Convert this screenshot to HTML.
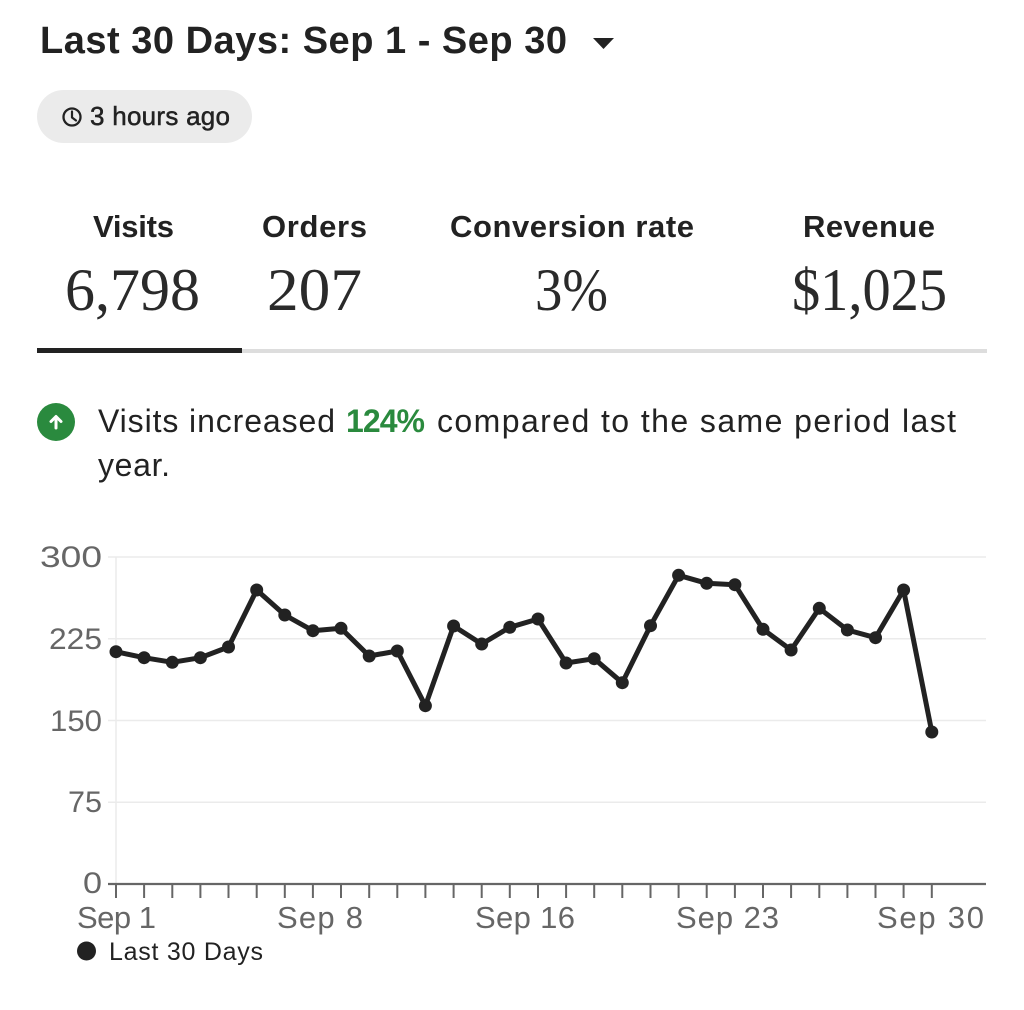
<!DOCTYPE html>
<html>
<head>
<meta charset="utf-8">
<style>
  html, body { margin: 0; padding: 0; background: #ffffff; }
  body { width: 1024px; height: 1010px; overflow: hidden; }
  svg { display: block; }
  text { font-family: "Liberation Sans", sans-serif; }
  text.serif { font-family: "Liberation Serif", serif; }
</style>
</head>
<body>
<svg width="1024" height="1010" viewBox="0 0 1024 1010" xmlns="http://www.w3.org/2000/svg">
  <rect x="0" y="0" width="1024" height="1010" fill="#ffffff"/>

  <!-- Title -->
  <text x="40" y="53" font-size="38" font-weight="bold" fill="#222222" textLength="527" lengthAdjust="spacing">Last 30 Days: Sep 1 - Sep 30</text>
  <polygon points="593,38 614,38 603.5,49" fill="#222222"/>

  <!-- Pill -->
  <rect x="37" y="90" width="215" height="53" rx="26.5" ry="26.5" fill="#ebebeb"/>
  <circle cx="72" cy="117" r="8.5" fill="none" stroke="#222222" stroke-width="2.3"/>
  <polyline points="72,111.5 72,117.5 76,120.5" fill="none" stroke="#222222" stroke-width="2.2" stroke-linecap="round" stroke-linejoin="round"/>
  <text x="90" y="125" font-size="26" fill="#222222" stroke="#222222" stroke-width="0.5" textLength="140" lengthAdjust="spacing">3 hours ago</text>

  <!-- Metric labels -->
  <text x="93" y="237" font-size="31" font-weight="bold" fill="#222222" textLength="81" lengthAdjust="spacing">Visits</text>
  <text x="262" y="237" font-size="31" font-weight="bold" fill="#222222" textLength="105" lengthAdjust="spacing">Orders</text>
  <text x="450" y="237" font-size="31" font-weight="bold" fill="#222222" textLength="244" lengthAdjust="spacing">Conversion rate</text>
  <text x="803" y="237" font-size="31" font-weight="bold" fill="#222222" textLength="132" lengthAdjust="spacing">Revenue</text>

  <!-- Metric values -->
  <text class="serif" x="65" y="310" font-size="60" fill="#2a2a2a" textLength="135" lengthAdjust="spacingAndGlyphs">6,798</text>
  <text class="serif" x="267" y="310" font-size="60" fill="#2a2a2a" textLength="95" lengthAdjust="spacingAndGlyphs">207</text>
  <text class="serif" x="535" y="310" font-size="60" fill="#2a2a2a" textLength="73" lengthAdjust="spacingAndGlyphs">3%</text>
  <text class="serif" x="792" y="310" font-size="60" fill="#2a2a2a" textLength="155" lengthAdjust="spacingAndGlyphs">$1,025</text>

  <!-- Tab bar -->
  <rect x="242" y="349" width="745" height="4" fill="#dddddd"/>
  <rect x="37" y="348" width="205" height="5" fill="#222222"/>

  <!-- Banner -->
  <circle cx="56" cy="422" r="19" fill="#2a8a3e"/>
  <polyline points="51,421.5 56,416.5 61,421.5" fill="none" stroke="#ffffff" stroke-width="3" stroke-linecap="round" stroke-linejoin="round"/>
  <line x1="56" y1="417" x2="56" y2="428" stroke="#ffffff" stroke-width="3" stroke-linecap="round"/>
  <text x="98" y="432" font-size="32" fill="#222222" textLength="237" lengthAdjust="spacing">Visits increased</text>
  <text x="346" y="432" font-size="32" font-weight="bold" fill="#2a8a3e" textLength="79" lengthAdjust="spacing">124%</text>
  <text x="437" y="432" font-size="32" fill="#222222" textLength="519" lengthAdjust="spacing">compared to the same period last</text>
  <text x="98" y="476" font-size="32" fill="#222222" textLength="72" lengthAdjust="spacing">year.</text>

  <!-- Grid -->
  <g stroke="#ebebeb" stroke-width="1.5">
    <line x1="108" y1="557" x2="986" y2="557"/>
    <line x1="108" y1="638.75" x2="986" y2="638.75"/>
    <line x1="108" y1="720.5" x2="986" y2="720.5"/>
    <line x1="108" y1="802.25" x2="986" y2="802.25"/>
    <line x1="116" y1="557" x2="116" y2="884"/>
  </g>

  <!-- Y labels -->
  <g font-size="30" fill="#666666">
    <text x="40" y="567" textLength="62" lengthAdjust="spacingAndGlyphs">300</text>
    <text x="49" y="649" textLength="53" lengthAdjust="spacingAndGlyphs">225</text>
    <text x="50" y="731" textLength="52" lengthAdjust="spacingAndGlyphs">150</text>
    <text x="68" y="812" textLength="34" lengthAdjust="spacingAndGlyphs">75</text>
    <text x="83" y="893" textLength="19" lengthAdjust="spacingAndGlyphs">0</text>
  </g>

  <!-- X axis -->
  <line x1="108" y1="884" x2="986" y2="884" stroke="#666666" stroke-width="2.2"/>
  <g stroke="#666666" stroke-width="2">
    <line x1="116.0" y1="884" x2="116.0" y2="898"/>
    <line x1="144.1" y1="884" x2="144.1" y2="898"/>
    <line x1="172.3" y1="884" x2="172.3" y2="898"/>
    <line x1="200.4" y1="884" x2="200.4" y2="898"/>
    <line x1="228.5" y1="884" x2="228.5" y2="898"/>
    <line x1="256.7" y1="884" x2="256.7" y2="898"/>
    <line x1="284.8" y1="884" x2="284.8" y2="898"/>
    <line x1="312.9" y1="884" x2="312.9" y2="898"/>
    <line x1="341.0" y1="884" x2="341.0" y2="898"/>
    <line x1="369.2" y1="884" x2="369.2" y2="898"/>
    <line x1="397.3" y1="884" x2="397.3" y2="898"/>
    <line x1="425.4" y1="884" x2="425.4" y2="898"/>
    <line x1="453.6" y1="884" x2="453.6" y2="898"/>
    <line x1="481.7" y1="884" x2="481.7" y2="898"/>
    <line x1="509.8" y1="884" x2="509.8" y2="898"/>
    <line x1="538.0" y1="884" x2="538.0" y2="898"/>
    <line x1="566.1" y1="884" x2="566.1" y2="898"/>
    <line x1="594.2" y1="884" x2="594.2" y2="898"/>
    <line x1="622.3" y1="884" x2="622.3" y2="898"/>
    <line x1="650.5" y1="884" x2="650.5" y2="898"/>
    <line x1="678.6" y1="884" x2="678.6" y2="898"/>
    <line x1="706.7" y1="884" x2="706.7" y2="898"/>
    <line x1="734.9" y1="884" x2="734.9" y2="898"/>
    <line x1="763.0" y1="884" x2="763.0" y2="898"/>
    <line x1="791.1" y1="884" x2="791.1" y2="898"/>
    <line x1="819.3" y1="884" x2="819.3" y2="898"/>
    <line x1="847.4" y1="884" x2="847.4" y2="898"/>
    <line x1="875.5" y1="884" x2="875.5" y2="898"/>
    <line x1="903.6" y1="884" x2="903.6" y2="898"/>
    <line x1="931.8" y1="884" x2="931.8" y2="898"/>
  </g>
  <g font-size="31" fill="#666666">
    <text x="77" y="928" textLength="79" lengthAdjust="spacing">Sep 1</text>
    <text x="277" y="928" textLength="86" lengthAdjust="spacing">Sep 8</text>
    <text x="475" y="928" textLength="100" lengthAdjust="spacing">Sep 16</text>
    <text x="676" y="928" textLength="103" lengthAdjust="spacing">Sep 23</text>
    <text x="877" y="928" textLength="107" lengthAdjust="spacing">Sep 30</text>
  </g>

  <!-- Series -->
  <polyline fill="none" stroke="#222222" stroke-width="5" stroke-linejoin="round" stroke-linecap="round"
    points="116.0,651.7 144.1,657.7 172.3,662.3 200.4,657.7 228.5,647.0 256.7,590.0 284.8,615.0 312.9,630.7 341.0,628.3 369.2,656.0 397.3,651.0 425.4,705.7 453.6,626.0 481.7,644.0 509.8,627.3 538.0,619.0 566.1,663.0 594.2,658.7 622.3,682.7 650.5,625.7 678.6,575.3 706.7,583.3 734.9,584.7 763.0,629.3 791.1,650.0 819.3,608.3 847.4,630.0 875.5,637.7 903.6,590.0 931.8,732.0"/>
  <g fill="#222222">
    <circle cx="116.0" cy="651.7" r="6.5"/>
    <circle cx="144.1" cy="657.7" r="6.5"/>
    <circle cx="172.3" cy="662.3" r="6.5"/>
    <circle cx="200.4" cy="657.7" r="6.5"/>
    <circle cx="228.5" cy="647.0" r="6.5"/>
    <circle cx="256.7" cy="590.0" r="6.5"/>
    <circle cx="284.8" cy="615.0" r="6.5"/>
    <circle cx="312.9" cy="630.7" r="6.5"/>
    <circle cx="341.0" cy="628.3" r="6.5"/>
    <circle cx="369.2" cy="656.0" r="6.5"/>
    <circle cx="397.3" cy="651.0" r="6.5"/>
    <circle cx="425.4" cy="705.7" r="6.5"/>
    <circle cx="453.6" cy="626.0" r="6.5"/>
    <circle cx="481.7" cy="644.0" r="6.5"/>
    <circle cx="509.8" cy="627.3" r="6.5"/>
    <circle cx="538.0" cy="619.0" r="6.5"/>
    <circle cx="566.1" cy="663.0" r="6.5"/>
    <circle cx="594.2" cy="658.7" r="6.5"/>
    <circle cx="622.3" cy="682.7" r="6.5"/>
    <circle cx="650.5" cy="625.7" r="6.5"/>
    <circle cx="678.6" cy="575.3" r="6.5"/>
    <circle cx="706.7" cy="583.3" r="6.5"/>
    <circle cx="734.9" cy="584.7" r="6.5"/>
    <circle cx="763.0" cy="629.3" r="6.5"/>
    <circle cx="791.1" cy="650.0" r="6.5"/>
    <circle cx="819.3" cy="608.3" r="6.5"/>
    <circle cx="847.4" cy="630.0" r="6.5"/>
    <circle cx="875.5" cy="637.7" r="6.5"/>
    <circle cx="903.6" cy="590.0" r="6.5"/>
    <circle cx="931.8" cy="732.0" r="6.5"/>
  </g>

  <!-- Legend -->
  <circle cx="86.5" cy="951" r="9.5" fill="#222222"/>
  <text x="109" y="960" font-size="25" fill="#222222" textLength="154" lengthAdjust="spacing">Last 30 Days</text>
</svg>
</body>
</html>
